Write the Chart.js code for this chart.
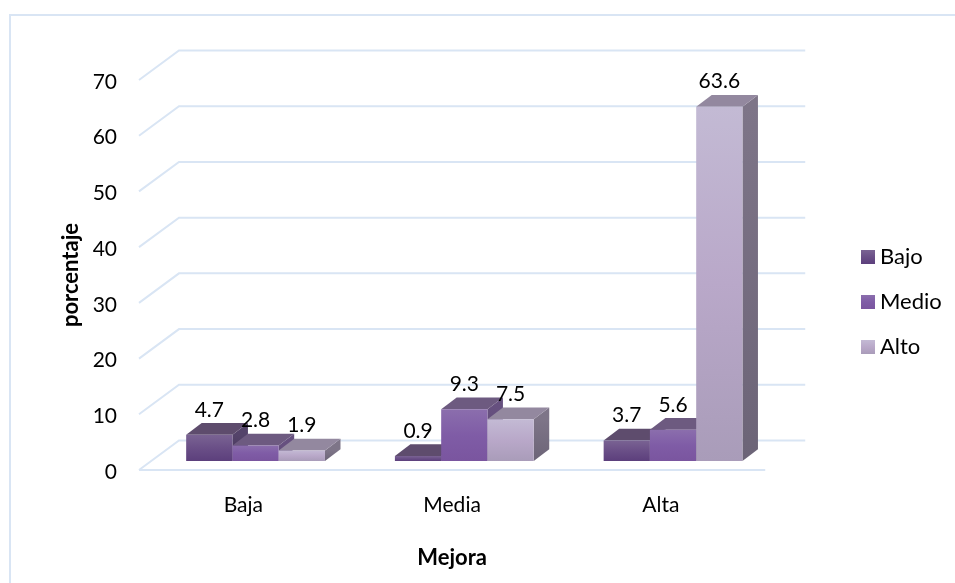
<!DOCTYPE html>
<html>
<head>
<meta charset="utf-8">
<title>Mejora</title>
<script src="https://cdn.jsdelivr.net/npm/chart.js@4/dist/chart.umd.min.js"></script>
<style>
    html, body { margin: 0; padding: 0; background: #fff; }
    #wrap { position: relative; width: 955px; height: 583px; overflow: hidden; }
    #frame { position: absolute; left: 9px; top: 14px; width: 960px; height: 580px; border: 2px solid #d9e5f4; }
    canvas { position: absolute; left: 0; top: 0; }
</style>
</head>
<body>
<div id="wrap">
    <div id="frame"></div>
    <canvas id="chart" width="955" height="583"></canvas>
</div>
<script>
const categories = ['Baja', 'Media', 'Alta'];
const seriesNames = ['Bajo', 'Medio', 'Alto'];
const bajoValues = [4.7, 0.9, 3.7];
const medioValues = [2.8, 9.3, 5.6];
const altoValues = [1.9, 7.5, 63.6];
const yTicks = [0, 10, 20, 30, 40, 50, 60, 70];

const FONT = 'Lato, "Open Sans", sans-serif';
const GRID = '#d9e5f4';

// depth of the room behind the axes, and where the bars stand inside it
const WALL_DX = 40, WALL_DY = 29.5;
const BAR_DX = 12.2, BAR_DY = 9;
const SIDE_DX = 15.5, SIDE_DY = 11.7;

const frontStops = [
    ['#7a6393', '#6a4f87', '#5c3f7c'],
    ['#8b6ead', '#7f5ca6', '#7a559f'],
    ['#c3bad4', '#b9a8c9', '#a99cb9']
];
const topColors = ['#5e4c6d', '#6d5a80', '#93889f'];
const sideStops = [
    ['#54436a', '#46355a'],
    ['#66507f', '#584470'],
    ['#7e7588', '#6c6477']
];

function verticalGradient(ctx, y0, y1, stops) {
    const g = ctx.createLinearGradient(0, y0, 0, y1);
    stops.forEach((c, i) => g.addColorStop(i / (stops.length - 1), c));
    return g;
}

function barFill(seriesIndex) {
    return function(context) {
        const stops = frontStops[seriesIndex];
        const y = context.chart.scales.y;
        if (context.raw === undefined || !y) {
            return stops[1];
        }
        const top = y.getPixelForValue(context.raw);
        const base = y.getPixelForValue(0);
        // scales have no size yet on the first pass
        if (!Number.isFinite(top) || !Number.isFinite(base)) {
            return stops[1];
        }
        return verticalGradient(context.chart.ctx, top, base, stops);
    };
}

// back wall, left wall and floor lines
function drawRoom(chart) {
    const ctx = chart.ctx;
    const area = chart.chartArea;
    const y = chart.scales.y;
    ctx.save();
    ctx.strokeStyle = GRID;
    ctx.lineWidth = 2;
    y.ticks.forEach(tick => {
        const py = y.getPixelForValue(tick.value);
        ctx.beginPath();
        ctx.moveTo(area.left, py);
        ctx.lineTo(area.left + WALL_DX, py - WALL_DY);
        ctx.lineTo(area.right + WALL_DX, py - WALL_DY);
        ctx.stroke();
    });
    ctx.beginPath();
    ctx.moveTo(area.left, area.bottom);
    ctx.lineTo(area.right, area.bottom);
    ctx.stroke();
    ctx.restore();
}

// top and right faces of one bar, the front comes from the bar element
function drawBarDepth(ctx, bar, seriesIndex) {
    const left = bar.x - bar.width / 2;
    const right = bar.x + bar.width / 2;
    ctx.fillStyle = verticalGradient(ctx, bar.y, bar.base, sideStops[seriesIndex]);
    ctx.beginPath();
    ctx.moveTo(right, bar.y);
    ctx.lineTo(right + SIDE_DX, bar.y - SIDE_DY);
    ctx.lineTo(right + SIDE_DX, bar.base - SIDE_DY);
    ctx.lineTo(right, bar.base);
    ctx.closePath();
    ctx.fill();
    ctx.fillStyle = topColors[seriesIndex];
    ctx.beginPath();
    ctx.moveTo(left, bar.y);
    ctx.lineTo(left + SIDE_DX, bar.y - SIDE_DY);
    ctx.lineTo(right + SIDE_DX, bar.y - SIDE_DY);
    ctx.lineTo(right, bar.y);
    ctx.closePath();
    ctx.fill();
}

const depthBars = {
    id: 'depthBars',
    beforeDatasetsDraw(chart) {
        drawRoom(chart);
    },
    // the default order paints the last series first, these need left to right
    beforeDatasetDraw() {
        return false;
    },
    afterDatasetsDraw(chart) {
        const ctx = chart.ctx;
        ctx.save();
        ctx.translate(BAR_DX, -BAR_DY);
        categories.forEach((c, i) => {
            seriesNames.forEach((s, j) => {
                const bar = chart.getDatasetMeta(j).data[i];
                drawBarDepth(ctx, bar, j);
                bar.draw(ctx);
            });
        });
        ctx.fillStyle = '#000';
        ctx.font = '21px ' + FONT;
        ctx.textAlign = 'center';
        ctx.textBaseline = 'middle';
        categories.forEach((c, i) => {
            seriesNames.forEach((s, j) => {
                const bar = chart.getDatasetMeta(j).data[i];
                ctx.fillText(chart.data.datasets[j].data[i].toFixed(1), bar.x, bar.y - 25);
            });
        });
        ctx.restore();
    },
    afterLayout(chart) {
        // legend sits away from the plot
        const legend = chart.legend;
        legend.left = 844;
        legend.right = 955;
        legend.top = 223;
        legend.bottom = 400;
    }
};

new Chart(document.getElementById('chart'), {
    type: 'bar',
    data: {
        labels: categories,
        datasets: [
            { label: seriesNames[0], data: bajoValues, backgroundColor: barFill(0) },
            { label: seriesNames[1], data: medioValues, backgroundColor: barFill(1) },
            { label: seriesNames[2], data: altoValues, backgroundColor: barFill(2) }
        ]
    },
    options: {
        responsive: false,
        animation: false,
        layout: { padding: { left: 58, top: 80, bottom: 12, right: 82 } },
        datasets: { bar: { barPercentage: 1, categoryPercentage: 0.665, borderWidth: 0 } },
        scales: {
            x: {
                grid: { display: false, drawTicks: false },
                border: { display: false },
                ticks: { color: '#000', padding: 23, font: { family: FONT, size: 21 } },
                title: { display: true, text: 'Mejora', color: '#000', padding: 0, font: { family: FONT, size: 22, weight: 'bold' } },
                afterFit(scale) { scale.height = 101; }
            },
            y: {
                min: 0,
                max: 70,
                afterBuildTicks(scale) { scale.ticks = yTicks.map(v => ({ value: v })); },
                grid: { display: false, drawTicks: false },
                border: { display: false },
                ticks: { color: '#000', padding: 22, labelOffset: 2, font: { family: FONT, size: 21 } },
                title: { display: true, text: 'porcentaje', color: '#000', padding: 0, font: { family: FONT, size: 22, weight: 'bold' } },
                afterFit(scale) { scale.width = 81; }
            }
        },
        plugins: {
            tooltip: { enabled: false },
            legend: {
                position: 'right',
                align: 'start',
                labels: {
                    color: '#000',
                    usePointStyle: true,
                    pointStyle: 'rect',
                    boxWidth: 2,
                    boxHeight: 14,
                    padding: 23,
                    font: { family: FONT, size: 22 },
                    generateLabels(chart) {
                        return Chart.defaults.plugins.legend.labels.generateLabels(chart).map((item, i) => {
                            item.fillStyle = verticalGradient(chart.ctx, 250 + 45 * i, 264 + 45 * i, frontStops[i]);
                            item.lineWidth = 0;
                            item.strokeStyle = 'transparent';
                            return item;
                        });
                    }
                }
            }
        }
    },
    plugins: [depthBars]
});
</script>
</body>
</html>
